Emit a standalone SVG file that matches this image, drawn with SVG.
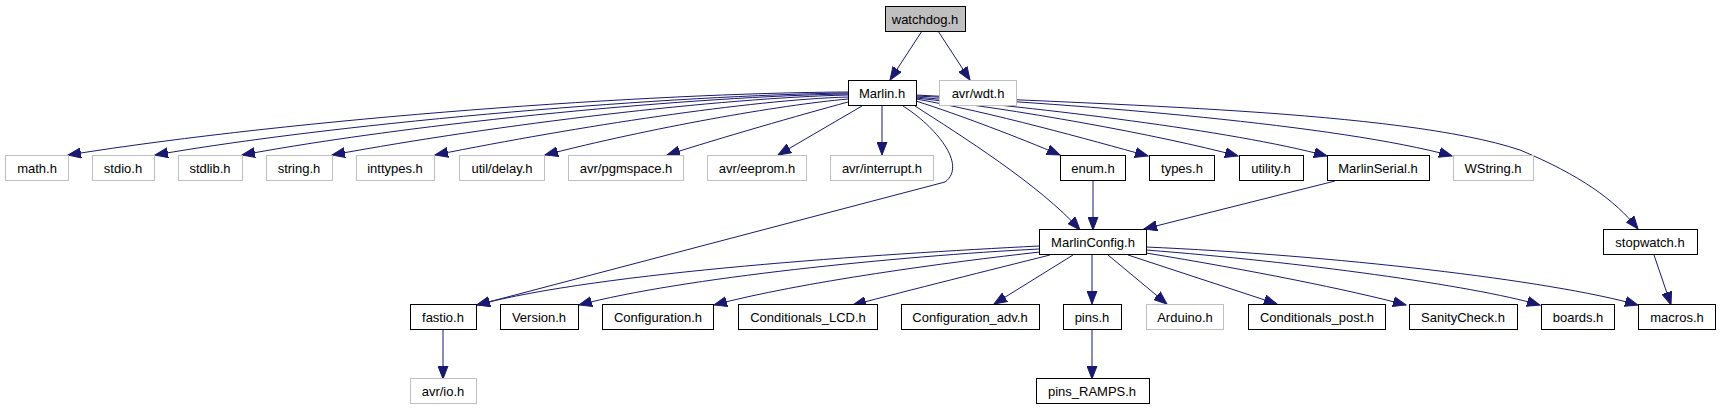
<svg xmlns="http://www.w3.org/2000/svg" width="1720" height="411" viewBox="0 0 1720 411">
<style>
rect{fill:#fff;stroke:#000;stroke-width:1}
rect.g{stroke:#bfbfbf}
rect.root{fill:#bfbfbf}
text{font-family:"Liberation Sans",Arial,sans-serif;font-size:13px;fill:#000;text-anchor:middle}
#edges path{fill:none;stroke:#191970;stroke-width:1}
</style>
<defs>
<marker id="ah" markerUnits="userSpaceOnUse" markerWidth="14" markerHeight="11" refX="13" refY="5" orient="auto" viewBox="0 0 14 10">
<path d="M0,0 L13,5 L0,10 z" fill="#191970" stroke="#191970"/>
</marker>
</defs>
<g id="edges" marker-end="url(#ah)">
<path d="M922,31 L890,80" marker-end="url(#ah)"/>
<path d="M938,31 L970,80" marker-end="url(#ah)"/>
<path d="M848,92 C650,93 300,118 68,155" marker-end="url(#ah)"/>
<path d="M848,93 C680,95 350,121 155,155" marker-end="url(#ah)"/>
<path d="M848,94 C700,96 420,122 242,155" marker-end="url(#ah)"/>
<path d="M848,95 C720,98 500,124 332,155" marker-end="url(#ah)"/>
<path d="M848,97 C750,100 580,126 435,155" marker-end="url(#ah)"/>
<path d="M848,99 C780,105 650,128 545,155" marker-end="url(#ah)"/>
<path d="M848,102 C800,115 720,138 667,155" marker-end="url(#ah)"/>
<path d="M862,106 L778,155" marker-end="url(#ah)"/>
<path d="M882,106 L882,155" marker-end="url(#ah)"/>
<path d="M903,106 C935,126 968,165 945,182 L477,305" marker-end="url(#ah)"/>
<path d="M915,106 C960,135 1040,185 1080,230" marker-end="url(#ah)"/>
<path d="M916,101 C960,115 1020,138 1060,155" marker-end="url(#ah)"/>
<path d="M916,99 C990,112 1090,140 1148,156" marker-end="url(#ah)"/>
<path d="M916,98 C1010,108 1160,135 1238,156" marker-end="url(#ah)"/>
<path d="M916,97 C1040,108 1230,130 1327,156" marker-end="url(#ah)"/>
<path d="M916,96 C1080,104 1340,125 1452,156" marker-end="url(#ah)"/>
<path d="M916,95 C1100,105 1400,110 1520,150 C1580,175 1615,200 1638,229" marker-end="url(#ah)"/>
<path d="M1093,181 L1093,230" marker-end="url(#ah)"/>
<path d="M1335,181 L1144,229" marker-end="url(#ah)"/>
<path d="M1039,246 C880,254 600,272 477,305" marker-end="url(#ah)"/>
<path d="M1039,249 C900,256 680,278 579,305" marker-end="url(#ah)"/>
<path d="M1040,252 C950,262 800,282 714,305" marker-end="url(#ah)"/>
<path d="M1050,255 C990,270 910,290 853,305" marker-end="url(#ah)"/>
<path d="M1073,255 L994,304" marker-end="url(#ah)"/>
<path d="M1092,255 L1092,304" marker-end="url(#ah)"/>
<path d="M1108,255 L1167,304" marker-end="url(#ah)"/>
<path d="M1128,255 L1277,304" marker-end="url(#ah)"/>
<path d="M1146,253 C1250,270 1350,290 1406,305" marker-end="url(#ah)"/>
<path d="M1146,250 C1300,262 1470,285 1540,305" marker-end="url(#ah)"/>
<path d="M1146,247 C1330,255 1550,280 1638,305" marker-end="url(#ah)"/>
<path d="M1654,255 L1671,305" marker-end="url(#ah)"/>
<path d="M443,330 L443,379" marker-end="url(#ah)"/>
<path d="M1092,330 L1092,379" marker-end="url(#ah)"/>
</g>
<g id="watchdog_h"><rect class="root" x="885.5" y="6.5" width="80" height="25"/><text x="925" y="23.5">watchdog.h</text></g>
<g id="Marlin_h"><rect x="848.5" y="80.5" width="68" height="25"/><text x="882" y="97.5">Marlin.h</text></g>
<g id="avr_wdt_h"><rect class="g" x="939.5" y="80.5" width="77" height="25"/><text x="978" y="97.5">avr/wdt.h</text></g>
<g id="math_h"><rect class="g" x="5.5" y="155.5" width="63" height="25"/><text x="37" y="172.5">math.h</text></g>
<g id="stdio_h"><rect class="g" x="92.5" y="155.5" width="62" height="25"/><text x="123" y="172.5">stdio.h</text></g>
<g id="stdlib_h"><rect class="g" x="178.5" y="155.5" width="64" height="25"/><text x="210" y="172.5">stdlib.h</text></g>
<g id="string_h"><rect class="g" x="266.5" y="155.5" width="66" height="25"/><text x="299" y="172.5">string.h</text></g>
<g id="inttypes_h"><rect class="g" x="356.5" y="155.5" width="78" height="25"/><text x="395" y="172.5">inttypes.h</text></g>
<g id="util_delay_h"><rect class="g" x="459.5" y="155.5" width="85" height="25"/><text x="502" y="172.5">util/delay.h</text></g>
<g id="avr_pgmspace_h"><rect class="g" x="568.5" y="155.5" width="115" height="25"/><text x="626" y="172.5">avr/pgmspace.h</text></g>
<g id="avr_eeprom_h"><rect class="g" x="707.5" y="155.5" width="99" height="25"/><text x="757" y="172.5">avr/eeprom.h</text></g>
<g id="avr_interrupt_h"><rect class="g" x="830.5" y="155.5" width="103" height="25"/><text x="882" y="172.5">avr/interrupt.h</text></g>
<g id="enum_h"><rect x="1060.5" y="155.5" width="65" height="25"/><text x="1093" y="172.5">enum.h</text></g>
<g id="types_h"><rect x="1149.5" y="155.5" width="65" height="25"/><text x="1182" y="172.5">types.h</text></g>
<g id="utility_h"><rect x="1239.5" y="155.5" width="64" height="25"/><text x="1271" y="172.5">utility.h</text></g>
<g id="MarlinSerial_h"><rect x="1327.5" y="155.5" width="102" height="25"/><text x="1378" y="172.5">MarlinSerial.h</text></g>
<g id="WString_h"><rect class="g" x="1453.5" y="155.5" width="80" height="25"/><text x="1493" y="172.5">WString.h</text></g>
<g id="MarlinConfig_h"><rect x="1039.5" y="229.5" width="107" height="25"/><text x="1093" y="246.5">MarlinConfig.h</text></g>
<g id="stopwatch_h"><rect x="1603.5" y="229.5" width="94" height="25"/><text x="1650" y="246.5">stopwatch.h</text></g>
<g id="fastio_h"><rect x="410.5" y="304.5" width="66" height="25"/><text x="443" y="321.5">fastio.h</text></g>
<g id="Version_h"><rect x="500.5" y="304.5" width="78" height="25"/><text x="539" y="321.5">Version.h</text></g>
<g id="Configuration_h"><rect x="602.5" y="304.5" width="111" height="25"/><text x="658" y="321.5">Configuration.h</text></g>
<g id="Conditionals_LCD_h"><rect x="738.5" y="304.5" width="139" height="25"/><text x="808" y="321.5">Conditionals_LCD.h</text></g>
<g id="Configuration_adv_h"><rect x="901.5" y="304.5" width="138" height="25"/><text x="970" y="321.5">Configuration_adv.h</text></g>
<g id="pins_h"><rect x="1063.5" y="304.5" width="58" height="25"/><text x="1092" y="321.5">pins.h</text></g>
<g id="Arduino_h"><rect class="g" x="1146.5" y="304.5" width="77" height="25"/><text x="1185" y="321.5">Arduino.h</text></g>
<g id="Conditionals_post_h"><rect x="1248.5" y="304.5" width="137" height="25"/><text x="1317" y="321.5">Conditionals_post.h</text></g>
<g id="SanityCheck_h"><rect x="1409.5" y="304.5" width="108" height="25"/><text x="1463" y="321.5">SanityCheck.h</text></g>
<g id="boards_h"><rect x="1541.5" y="304.5" width="73" height="25"/><text x="1578" y="321.5">boards.h</text></g>
<g id="macros_h"><rect x="1638.5" y="304.5" width="77" height="25"/><text x="1677" y="321.5">macros.h</text></g>
<g id="avr_io_h"><rect class="g" x="410.5" y="378.5" width="66" height="25"/><text x="443" y="395.5">avr/io.h</text></g>
<g id="pins_RAMPS_h"><rect x="1036.5" y="378.5" width="113" height="25"/><text x="1092" y="395.5">pins_RAMPS.h</text></g>
</svg>
